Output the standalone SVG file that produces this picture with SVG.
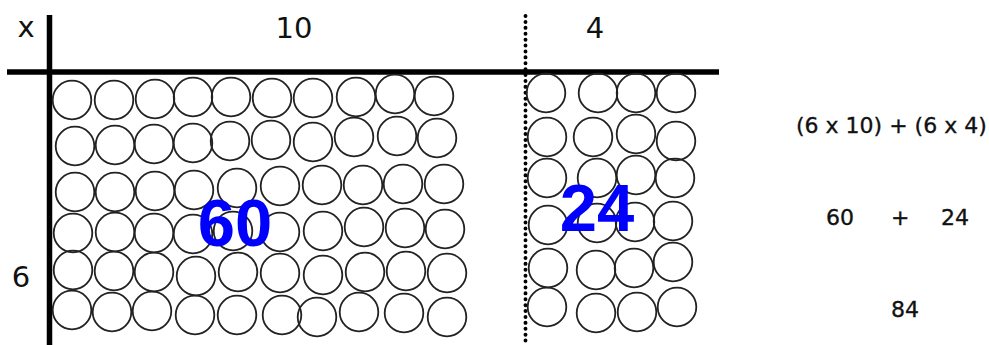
<svg xmlns="http://www.w3.org/2000/svg" width="989" height="345" viewBox="0 0 989 345">
<style>
.c{fill:none;stroke:#222;stroke-width:1.8}
.t{font-family:"DejaVu Sans",sans-serif;fill:#111}
.lab{font-size:29px;text-anchor:middle}
.eq{font-size:22px;stroke:#111;stroke-width:0.35}
.big{font-family:"Liberation Sans",Arial,sans-serif;font-weight:bold;font-size:67px;fill:#0000ff;text-anchor:middle}
</style>
<rect width="989" height="345" fill="#fff"/>
<g id="axes">
<line x1="49.5" y1="15" x2="49.5" y2="345" stroke="#000" stroke-width="5.5"/>
<line x1="7" y1="72" x2="719" y2="72" stroke="#000" stroke-width="5.5"/>
<line x1="525.5" y1="16" x2="525.5" y2="345" stroke="#000" stroke-width="3.9" stroke-linecap="round" stroke-dasharray="0.1 5.8"/>
</g>
<g id="tens">
<circle class="c" cx="72" cy="100" r="19.3"/><circle class="c" cx="114" cy="100" r="19.3"/><circle class="c" cx="155" cy="99" r="19.3"/><circle class="c" cx="193" cy="97" r="19.3"/><circle class="c" cx="231" cy="97" r="19.3"/><circle class="c" cx="272" cy="98" r="19.3"/><circle class="c" cx="313" cy="98" r="19.3"/><circle class="c" cx="356" cy="97" r="19.3"/><circle class="c" cx="395" cy="94" r="19.3"/><circle class="c" cx="434" cy="96" r="19.3"/>
<circle class="c" cx="75" cy="146" r="19.3"/><circle class="c" cx="115" cy="145" r="19.3"/><circle class="c" cx="154" cy="144" r="19.3"/><circle class="c" cx="193" cy="143" r="19.3"/><circle class="c" cx="230" cy="141" r="19.3"/><circle class="c" cx="271" cy="140" r="19.3"/><circle class="c" cx="313" cy="142" r="19.3"/><circle class="c" cx="354" cy="137" r="19.3"/><circle class="c" cx="397" cy="136" r="19.3"/><circle class="c" cx="437" cy="138" r="19.3"/>
<circle class="c" cx="75" cy="192" r="19.3"/><circle class="c" cx="115" cy="192" r="19.3"/><circle class="c" cx="155" cy="191" r="19.3"/><circle class="c" cx="194" cy="190" r="19.3"/><circle class="c" cx="237" cy="188" r="19.3"/><circle class="c" cx="280" cy="186" r="19.3"/><circle class="c" cx="322" cy="185" r="19.3"/><circle class="c" cx="363" cy="185" r="19.3"/><circle class="c" cx="403" cy="184" r="19.3"/><circle class="c" cx="444" cy="184" r="19.3"/>
<circle class="c" cx="73" cy="233" r="19.3"/><circle class="c" cx="115" cy="232" r="19.3"/><circle class="c" cx="154" cy="233" r="19.3"/><circle class="c" cx="193" cy="234" r="19.3"/><circle class="c" cx="233" cy="231" r="19.3"/><circle class="c" cx="280" cy="232" r="19.3"/><circle class="c" cx="323" cy="231" r="19.3"/><circle class="c" cx="364" cy="227" r="19.3"/><circle class="c" cx="405" cy="228" r="19.3"/><circle class="c" cx="445" cy="229" r="19.3"/>
<circle class="c" cx="73" cy="270" r="19.3"/><circle class="c" cx="114" cy="271" r="19.3"/><circle class="c" cx="154" cy="272" r="19.3"/><circle class="c" cx="196" cy="276" r="19.3"/><circle class="c" cx="238" cy="272" r="19.3"/><circle class="c" cx="280" cy="273" r="19.3"/><circle class="c" cx="323" cy="275" r="19.3"/><circle class="c" cx="365" cy="272" r="19.3"/><circle class="c" cx="406" cy="271" r="19.3"/><circle class="c" cx="447" cy="273" r="19.3"/>
<circle class="c" cx="72" cy="310" r="19.3"/><circle class="c" cx="112" cy="312" r="19.3"/><circle class="c" cx="152" cy="311" r="19.3"/><circle class="c" cx="195" cy="315" r="19.3"/><circle class="c" cx="237" cy="315" r="19.3"/><circle class="c" cx="282" cy="315" r="19.3"/><circle class="c" cx="317" cy="317" r="19.3"/><circle class="c" cx="359" cy="312" r="19.3"/><circle class="c" cx="404" cy="313" r="19.3"/><circle class="c" cx="447" cy="317" r="19.3"/>
</g>
<g id="fours">
<circle class="c" cx="546" cy="93" r="19.3"/><circle class="c" cx="598" cy="93" r="19.3"/><circle class="c" cx="636" cy="93" r="19.3"/><circle class="c" cx="676" cy="93" r="19.3"/>
<circle class="c" cx="547" cy="137" r="19.3"/><circle class="c" cx="593" cy="137" r="19.3"/><circle class="c" cx="636" cy="134" r="19.3"/><circle class="c" cx="676" cy="141" r="19.3"/>
<circle class="c" cx="547" cy="178" r="19.3"/><circle class="c" cx="597" cy="178" r="19.3"/><circle class="c" cx="636" cy="175" r="19.3"/><circle class="c" cx="675" cy="178" r="19.3"/>
<circle class="c" cx="548" cy="225" r="19.3"/><circle class="c" cx="597" cy="223" r="19.3"/><circle class="c" cx="635" cy="222" r="19.3"/><circle class="c" cx="673" cy="221" r="19.3"/>
<circle class="c" cx="548" cy="268" r="19.3"/><circle class="c" cx="596" cy="270" r="19.3"/><circle class="c" cx="634" cy="268" r="19.3"/><circle class="c" cx="673" cy="262" r="19.3"/>
<circle class="c" cx="547" cy="307" r="19.3"/><circle class="c" cx="596" cy="313" r="19.3"/><circle class="c" cx="637" cy="312" r="19.3"/><circle class="c" cx="677" cy="307" r="19.3"/>
</g>
<g id="labels">
<text class="t lab" x="26" y="37">x</text>
<text class="t lab" x="294" y="38">10</text>
<text class="t lab" x="595" y="38">4</text>
<text class="t lab" x="21" y="287">6</text>
<text class="big" x="235" y="246">60</text>
<text class="big" x="597" y="231">24</text>
</g>
<g id="working">
<text class="t eq" x="796" y="133">(6 x 10) + (6 x 4)</text>
<text class="t eq" x="826" y="225">60</text>
<text class="t eq" x="891" y="225">+</text>
<text class="t eq" x="941" y="225">24</text>
<text class="t eq" x="891" y="317">84</text>
</g>
</svg>
